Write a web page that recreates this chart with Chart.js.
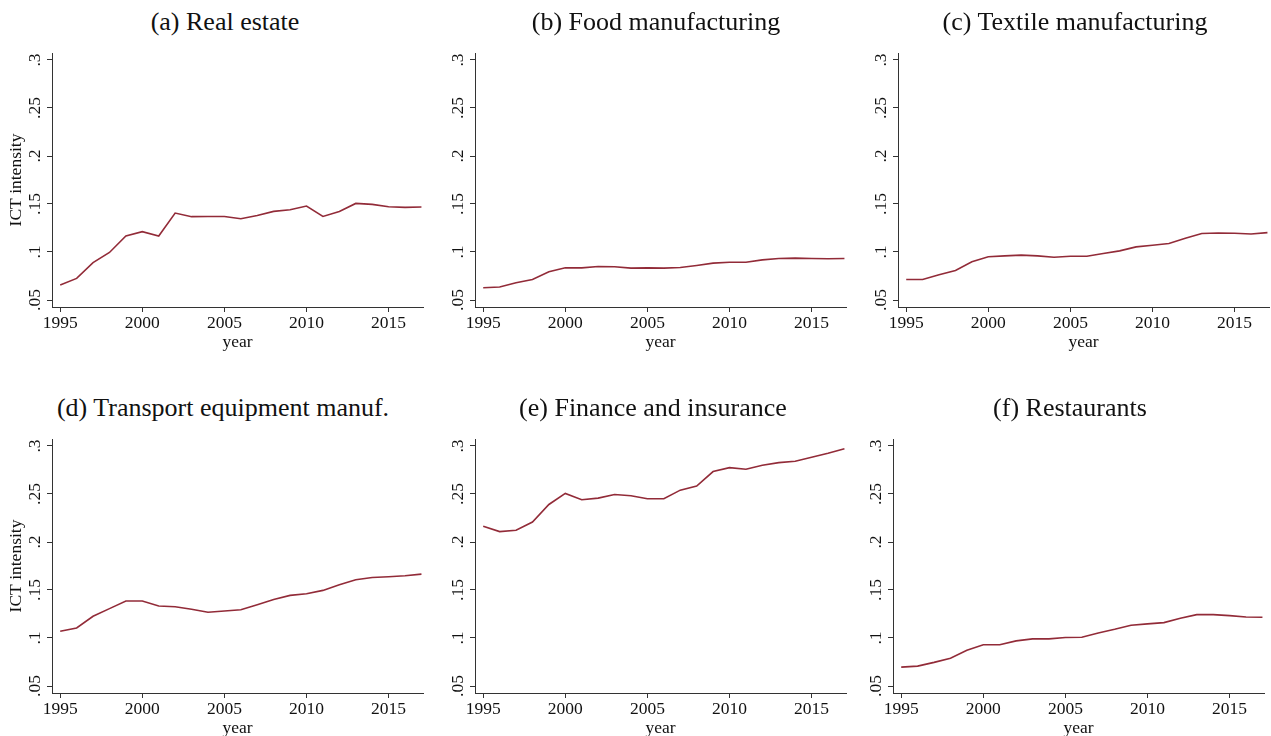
<!DOCTYPE html>
<html>
<head>
<meta charset="utf-8">
<script src="https://cdn.jsdelivr.net/npm/chart.js@4"></script>
<style>
  html, body { margin: 0; padding: 0; background: #fff; overflow: hidden; }
  body { width: 1271px; height: 736px; position: relative; }
  .panel { position: absolute; }
  .title {
    position: absolute; width: 500px; margin-left: -250px; text-align: center;
    font-family: 'Liberation Serif', 'Times New Roman', serif; font-size: 26px;
    line-height: 30px; color: #111; white-space: nowrap;
  }
</style>
</head>
<body>
<script>
const years = [1995, 1996, 1997, 1998, 1999, 2000, 2001, 2002, 2003, 2004, 2005, 2006,
  2007, 2008, 2009, 2010, 2011, 2012, 2013, 2014, 2015, 2016, 2017];
const yearTicks = [1995, 2000, 2005, 2010, 2015];
const ictTicks = [0.05, 0.1, 0.15, 0.2, 0.25, 0.3];

const realEstate = [0.0656, 0.0725, 0.089, 0.0995, 0.1167, 0.1212, 0.1167, 0.1406, 0.1368, 0.137,
  0.137, 0.1347, 0.138, 0.1423, 0.144, 0.1479, 0.137, 0.1423, 0.1506, 0.1496, 0.1472, 0.1465, 0.1468];
const foodManuf = [0.0628, 0.0635, 0.068, 0.0714, 0.0794, 0.0835, 0.0835, 0.0849, 0.0846, 0.0832,
  0.0835, 0.0832, 0.0839, 0.086, 0.0884, 0.0894, 0.0894, 0.0918, 0.0932, 0.0936, 0.0932, 0.0929, 0.0932];
const textileManuf = [0.0714, 0.0714, 0.0763, 0.0808, 0.0898, 0.095, 0.096, 0.0967, 0.096, 0.0946,
  0.0956, 0.0956, 0.0984, 0.1012, 0.1053, 0.107, 0.1088, 0.1143, 0.1192, 0.1198, 0.1195, 0.1188, 0.1202];
const transportManuf = [0.107, 0.1105, 0.1226, 0.1306, 0.1385, 0.1385, 0.1333, 0.1326, 0.1299, 0.1268,
  0.1281, 0.1295, 0.1347, 0.1402, 0.1444, 0.1461, 0.1496, 0.1555, 0.1607, 0.1631, 0.1638, 0.1648, 0.1665];
const financeInsurance = [0.2163, 0.2108, 0.2122, 0.2208, 0.2391, 0.2506, 0.244, 0.2457, 0.2495, 0.2481,
  0.245, 0.245, 0.254, 0.2582, 0.2734, 0.2775, 0.2758, 0.2799, 0.2827, 0.2841, 0.2882, 0.2924, 0.2972];
const restaurants = [0.0697, 0.0707, 0.0746, 0.079, 0.0873, 0.0929, 0.0929, 0.097, 0.0991, 0.0991,
  0.1005, 0.1008, 0.1053, 0.1091, 0.1133, 0.1147, 0.116, 0.1205, 0.1243, 0.1243, 0.1233, 0.1219, 0.1216];

const SERIF = "'Liberation Serif', 'Times New Roman', serif";
const LINE = '#922b38';
const AXIS = '#333';

// canvas left/top/width, yw = y axis box width, tx = title centre (page x)
const panels = [
  { title: '(a) Real estate', data: realEstate, left: 0, top: 0, width: 430, yw: 52, tx: 225, ytitle: true },
  { title: '(b) Food manufacturing', data: foodManuf, left: 430, top: 0, width: 430, yw: 45, tx: 656 },
  { title: '(c) Textile manufacturing', data: textileManuf, left: 860, top: 0, width: 411, yw: 38, tx: 1075 },
  { title: '(d) Transport equipment manuf.', data: transportManuf, left: 0, top: 386, width: 430, yw: 52, tx: 223, ytitle: true },
  { title: '(e) Finance and insurance', data: financeInsurance, left: 430, top: 386, width: 430, yw: 45, tx: 653 },
  { title: '(f) Restaurants', data: restaurants, left: 855, top: 386, width: 416, yw: 38, tx: 1070 }
];

const CHART_TOP = 53, CHART_BOTTOM = 307, HEIGHT = 360;
const PX_PER_UNIT = 960, PX_PER_YEAR = 16.42;
const XMIN = 1994.5, XMAX = 2017.1;
const ymin = 0.05 - 7 / PX_PER_UNIT;
const ymax = 0.3 + 7 / PX_PER_UNIT;

function makePanel(p) {
  const t = document.createElement('div');
  t.className = 'title';
  t.textContent = p.title;
  t.style.left = p.tx + 'px';
  t.style.top = (p.top + 22 - 15) + 'px';
  document.body.appendChild(t);

  const box = document.createElement('div');
  box.className = 'panel';
  box.style.left = p.left + 'px';
  box.style.top = p.top + 'px';
  box.style.width = p.width + 'px';
  box.style.height = HEIGHT + 'px';
  const canvas = document.createElement('canvas');
  box.appendChild(canvas);
  document.body.appendChild(box);

  const padRight = p.width - p.yw - (XMAX - XMIN) * PX_PER_YEAR;

  new Chart(canvas, {
    type: 'line',
    data: {
      datasets: [{
        data: years.map((y, i) => ({ x: y, y: p.data[i] })),
        borderColor: LINE,
        borderWidth: 1.6,
        pointRadius: 0,
        tension: 0,
        fill: false
      }]
    },
    options: {
      responsive: true,
      maintainAspectRatio: false,
      animation: false,
      events: [],
      layout: { padding: { left: 0, right: padRight, top: CHART_TOP, bottom: 0 } },
      plugins: {
        legend: { display: false },
        tooltip: { enabled: false },
        title: { display: false }
      },
      scales: {
        x: {
          type: 'linear',
          min: XMIN,
          max: XMAX,
          afterBuildTicks: s => { s.ticks = yearTicks.map(v => ({ value: v })); },
          afterFit: s => { s.height = HEIGHT - CHART_BOTTOM; },
          border: { display: true, color: AXIS, width: 1 },
          grid: { display: true, drawOnChartArea: false, drawTicks: true, tickLength: 5, color: AXIS },
          ticks: {
            color: '#111', padding: 1, maxRotation: 0, autoSkip: false,
            font: { family: SERIF, size: 17.5 },
            callback: v => String(v)
          },
          title: {
            display: true, text: 'year', color: '#111',
            font: { family: SERIF, size: 17.5 },
            padding: { top: 0, bottom: 7 }
          }
        },
        y: {
          min: ymin,
          max: ymax,
          afterBuildTicks: s => { s.ticks = ictTicks.map(v => ({ value: v })); },
          afterFit: s => { s.width = p.yw; },
          border: { display: true, color: AXIS, width: 1 },
          grid: { display: true, drawOnChartArea: false, drawTicks: true, tickLength: 5, color: AXIS },
          ticks: {
            color: '#111', padding: 1, minRotation: 90, maxRotation: 90, crossAlign: 'center',
            font: { family: SERIF, size: 17.5 },
            callback: v => String(+v.toFixed(2)).replace(/^0/, '')
          },
          title: {
            display: !!p.ytitle, text: 'ICT intensity', color: '#111',
            font: { family: SERIF, size: 17.5 },
            padding: { top: 6, bottom: 0 }
          }
        }
      }
    }
  });
}

panels.forEach(makePanel);
</script>
</body>
</html>
